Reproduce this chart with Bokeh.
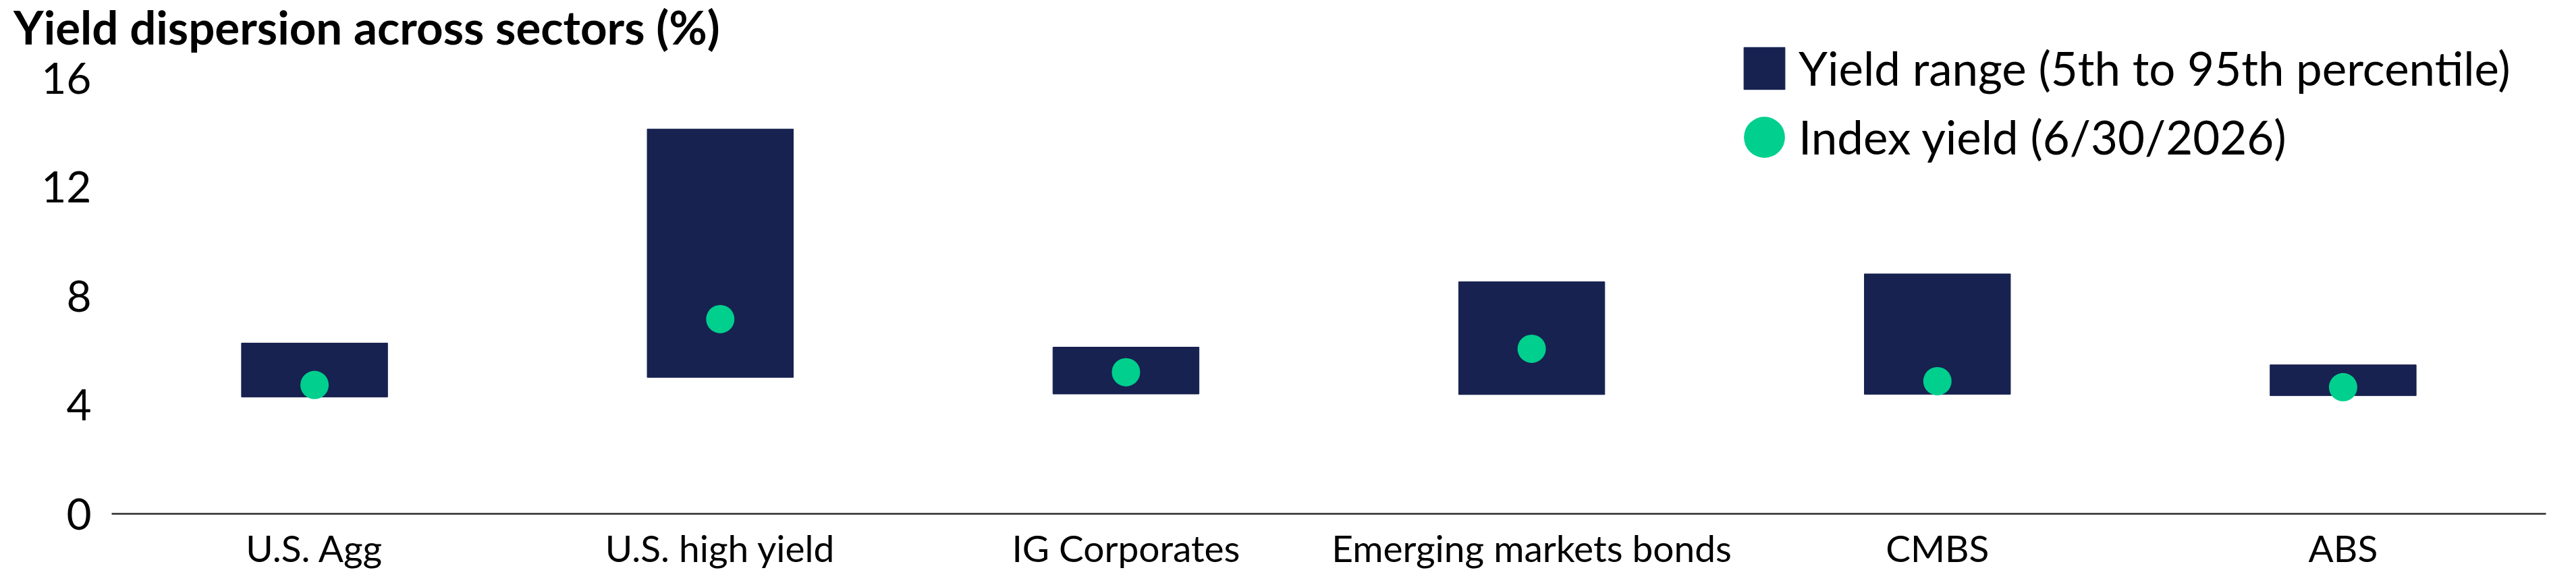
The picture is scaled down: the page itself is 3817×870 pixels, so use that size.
from bokeh.plotting import figure
from bokeh.models import (ColumnDataSource, FactorRange, Range1d, FixedTicker,
                          Legend, LegendItem, Div)
from bokeh.layouts import column
from bokeh.embed import file_html
from bokeh.resources import INLINE

categories = ["U.S. Agg", "U.S. high yield", "IG Corporates",
              "Emerging markets bonds", "CMBS", "ABS"]
range_low = [4.29, 5.01, 4.40, 4.38, 4.39, 4.34]
range_high = [6.27, 14.13, 6.12, 8.52, 8.81, 5.47]
index_yield = [4.73, 7.15, 5.20, 6.06, 4.87, 4.65]
y_ticks = [0, 4, 8, 12, 16]

title_text = "Yield dispersion across sectors (%)"
range_label = "Yield range (5th to 95th percentile)"
index_label = "Index yield (6/30/2026)"

NAVY = "#172250"
GREEN = "#00CF8D"

# ---- title ----
title = Div(text='<div style="padding-left:20px">' + title_text + '</div>',
            width=3700, height=58,
            styles={"font-family": "Lato", "font-weight": "bold",
                    "font-size": "69px", "line-height": "79px",
                    "color": "black", "white-space": "nowrap",
                    "overflow": "visible", "margin": "0"})

# ---- main chart ----
src = ColumnDataSource(dict(cat=categories, low=range_low, high=range_high,
                            idx=index_yield))

p = figure(width=3800, height=804, x_range=FactorRange(*categories),
           y_range=Range1d(0, 17.42), output_backend="svg",
           toolbar_location=None,
           min_border_left=165, min_border_right=28, min_border_top=0,
           min_border_bottom=101)
p.title_location = None
p.outline_line_color = None
p.border_fill_alpha = 0
p.background_fill_alpha = 0
p.xgrid.grid_line_color = None
p.ygrid.grid_line_color = None

bars = p.vbar(x="cat", bottom="low", top="high", width=0.36, source=src,
              fill_color=NAVY, line_color=NAVY, line_width=1)
dots = p.ellipse(x="cat", y="idx", width=42, height=42, width_units="screen",
                 height_units="screen", source=src,
                 fill_color=GREEN, line_color=None)

# y axis
p.yaxis.ticker = FixedTicker(ticks=y_ticks)
p.yaxis.axis_line_color = None
p.yaxis.major_tick_line_color = None
p.yaxis.minor_tick_line_color = None
p.yaxis.major_tick_out = 0
p.yaxis.major_tick_in = 0
p.yaxis.major_label_standoff = 30
p.yaxis.major_label_text_font = "Lato"
p.yaxis.major_label_text_font_size = "64px"
p.yaxis.major_label_text_color = "black"

# x axis
p.xaxis.axis_line_color = "#2a2a2a"
p.xaxis.axis_line_width = 2.5
p.xaxis.major_tick_line_color = None
p.xaxis.minor_tick_line_color = None
p.xaxis.major_tick_out = 0
p.xaxis.major_tick_in = 0
p.xaxis.major_label_standoff = 17
p.xaxis.major_label_text_font = "Lato"
p.xaxis.major_label_text_font_size = "55px"
p.xaxis.major_label_text_color = "black"

legend = Legend(items=[LegendItem(label=range_label, renderers=[bars]),
                       LegendItem(label=index_label, renderers=[dots])],
                location=(2411, 517), glyph_width=76, glyph_height=78,
                label_standoff=13, padding=0, margin=0, spacing=19,
                border_line_color=None, background_fill_alpha=0,
                label_text_font="Lato", label_text_font_size="69px",
                label_text_color="black")
p.add_layout(legend, "center")

layout = column(title, p, spacing=0)
open("out.html", "w").write(file_html(layout, INLINE))
